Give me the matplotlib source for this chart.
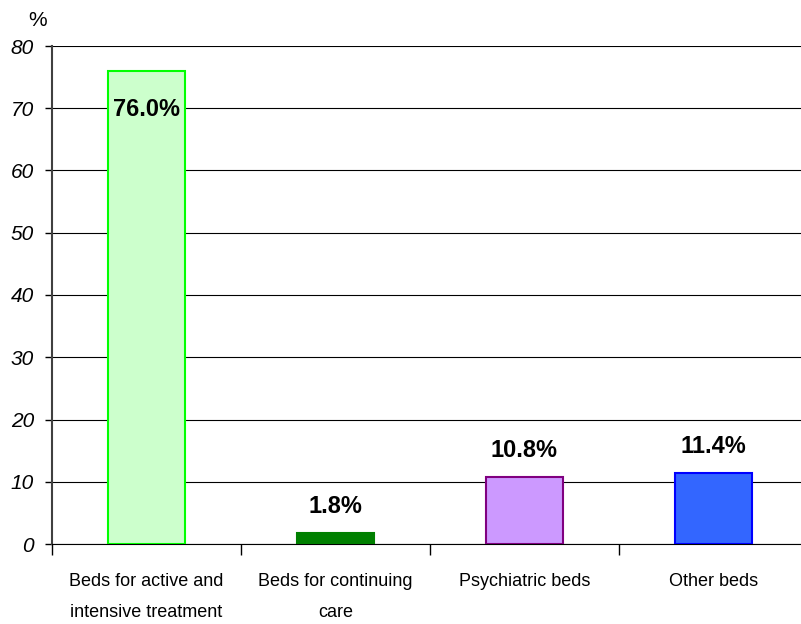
import matplotlib.pyplot as plt
from matplotlib import font_manager

# Datos
categories = ['Beds for active and\nintensive treatment', 'Beds for continuing\ncare',
              'Psychiatric beds', 'Other beds']
values = [76.0, 1.8, 10.8, 11.4]
labels = ['76.0%', '1.8%', '10.8%', '11.4%']
face_colors = ['#CCFFCC', '#008000', '#CC99FF', '#3366FF']
edge_colors = ['#00FF00', '#008000', '#800080', '#0000FF']
y_ticks = [0, 10, 20, 30, 40, 50, 60, 70, 80]

names = {f.name for f in font_manager.fontManager.ttflist}
narrow = 'Liberation Sans Narrow' if 'Liberation Sans Narrow' in names else 'Liberation Sans'
plt.rcParams['font.family'] = ['Liberation Sans', 'DejaVu Sans']

fig = plt.figure(figsize=(8.01, 6.24), dpi=100)
# ejes: izquierda 52px, arriba 46px, abajo 544px, ancho 4 categorias de 189px
ax = fig.add_axes([52 / 801, (624 - 544) / 624, 756 / 801, 498 / 624])

x = list(range(len(categories)))
ax.bar(x, values, width=0.41, color=face_colors, edgecolor=edge_colors, linewidth=1.5, zorder=3)

for i, (v, lab) in enumerate(zip(values, labels)):
    off = -28 if v > 70 else 19
    ax.annotate(lab, (i, v), xytext=(0, off), textcoords='offset points',
                ha='center', va='center', fontsize=17, fontweight='bold', zorder=4)

ax.set_xlim(-0.5, len(categories) - 0.5)
ax.set_ylim(0, 80)
ax.set_yticks(y_ticks)
ax.set_yticklabels([str(t) for t in y_ticks], fontsize=15, style='italic')
ax.yaxis.grid(True, color='black', linewidth=0.8, zorder=0)
ax.tick_params(axis='y', length=5, width=1, direction='out', pad=8)

# ticks del eje x entre categorias
ax.set_xticks([i - 0.5 for i in range(len(categories) + 1)])
ax.set_xticklabels([])
ax.set_xticks(x, minor=True)
ax.set_xticklabels(categories, minor=True, fontsize=13, family=narrow, linespacing=2.1)
ax.tick_params(axis='x', which='major', length=8, width=1, direction='out')
ax.tick_params(axis='x', which='minor', length=0, pad=21)

for s in ['top', 'right']:
    ax.spines[s].set_visible(False)
ax.spines['left'].set_color('#404040')
ax.spines['left'].set_linewidth(1.5)
ax.spines['bottom'].set_color('black')

fig.text(38 / 801, 1 - 20 / 624, '%', fontsize=15, ha='center', va='center')

fig.savefig('out.png', dpi=100)
